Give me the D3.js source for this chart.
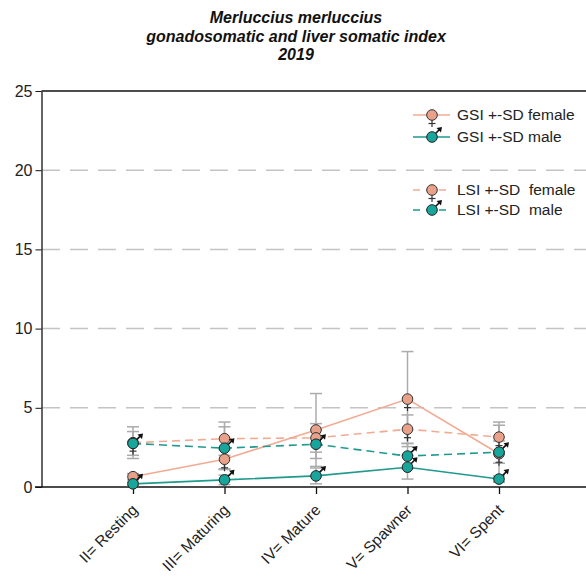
<!DOCTYPE html>
<html><head><meta charset="utf-8">
<script src="https://cdn.jsdelivr.net/npm/d3@7"></script>
<style>body{margin:0;background:#fff}svg{display:block}</style>
</head><body>
<svg id="c" width="586" height="580"></svg>
<script>
const categories = ["II= Resting","III= Maturing","IV= Mature","V= Spawner","VI= Spent"];
const gsiFemale   = [0.65, 1.75, 3.6, 5.55, 2.1];
const gsiFemaleSD = [0.2, 0.6, 2.3, 3.0, 1.8];
const gsiMale     = [0.2, 0.45, 0.7, 1.25, 0.5];
const gsiMaleSD   = [0.1, 0.3, 0.5, 0.75, 0.2];
const lsiFemale   = [2.8, 3.05, 3.1, 3.65, 3.15];
const lsiFemaleSD = [1.0, 1.05, 0.9, 0.9, 0.95];
const lsiMale     = [2.75, 2.45, 2.7, 1.95, 2.2];
const lsiMaleSD   = [0.75, 1.35, 0.9, 0.8, 0.7];
const yTicks = [0,5,10,15,20,25];
const titleLines = ["Merluccius merluccius","gonadosomatic and liver somatic index","2019"];
const legendLabels = ["GSI +-SD female","GSI +-SD male","LSI +-SD  female","LSI +-SD  male"];

const FONT = "'Liberation Sans', Arial, sans-serif";
const salmonLine = "#f2ab93", salmonFill = "#e9a18a";
const tealLine = "#1f9a8d", tealFill = "#17a59c";

const svg = d3.select("#c");
const x = d3.scalePoint().domain(categories).range([41.5, 590.5]).padding(1);
const y = d3.scaleLinear().domain([0,25]).range([487, 91]);

// title
svg.append("g").selectAll("text").data(titleLines).join("text")
  .attr("x", 296).attr("y", (d,i)=>[23,41.5,60][i])
  .attr("text-anchor","middle")
  .style("font-family",FONT).style("font-size","16px")
  .style("font-weight","bold").style("font-style","italic").attr("fill","#111")
  .text(d=>d);

// gridlines
svg.append("g").selectAll("line").data(yTicks.filter(t=>t>0&&t<25)).join("line")
  .attr("x1",42).attr("x2",586).attr("y1",d=>y(d)).attr("y2",d=>y(d))
  .attr("stroke","#c4c4c4").attr("stroke-width",1.5).attr("stroke-dasharray","18,10");

// top frame line
svg.append("line").attr("x1",41.5).attr("x2",586).attr("y1",y(25)).attr("y2",y(25))
  .attr("stroke","#111").attr("stroke-width",1.3);

// y axis
const ya = svg.append("g").attr("transform","translate(41.5,0)")
  .call(d3.axisLeft(y).tickValues(yTicks).tickSize(6).tickPadding(3).tickSizeOuter(0));
ya.select(".domain").attr("stroke","#111").attr("stroke-width",1.3);
ya.selectAll(".tick line").attr("stroke","#111");
ya.selectAll("text").style("font-family",FONT).style("font-size","16px").attr("fill","#222");

// x axis
const xa = svg.append("g").attr("transform","translate(0,487)")
  .call(d3.axisBottom(x).tickSize(7).tickSizeOuter(0));
xa.select(".domain").remove();
xa.append("line").attr("x1",35).attr("x2",586).attr("stroke","#111").attr("stroke-width",1.3);
xa.selectAll(".tick line").attr("stroke","#111").attr("stroke-width",1.3);
xa.selectAll("text").style("font-family",FONT).style("font-size","15.5px").attr("fill","#222")
  .attr("text-anchor","end").attr("dy",0).attr("y",0)
  .attr("transform","translate(5,24) rotate(-45)");

const series = [
  {v:gsiFemale, sd:gsiFemaleSD, color:salmonLine, dash:null, sex:"f"},
  {v:lsiFemale, sd:lsiFemaleSD, color:salmonLine, dash:"8,5", sex:"f"},
  {v:lsiMale, sd:lsiMaleSD, color:tealLine, dash:"8,5", sex:"m"},
  {v:gsiMale, sd:gsiMaleSD, color:tealLine, dash:null, sex:"m"}
];

// error bars
const eb = svg.append("g").attr("stroke","#ababab").attr("stroke-width",1.5);
series.forEach(s=>{
  categories.forEach((c,i)=>{
    const cx = x(c), top = y(s.v[i]+s.sd[i]), bot = y(Math.max(0,s.v[i]-s.sd[i]));
    eb.append("line").attr("x1",cx).attr("x2",cx).attr("y1",top).attr("y2",bot);
    eb.append("line").attr("x1",cx-6).attr("x2",cx+6).attr("y1",top).attr("y2",top);
    eb.append("line").attr("x1",cx-6).attr("x2",cx+6).attr("y1",bot).attr("y2",bot);
  });
});

// lines
const line = d3.line().x((d,i)=>x(categories[i])).y(d=>y(d));
series.forEach(s=>{
  svg.append("path").datum(s.v).attr("d",line).attr("fill","none")
    .attr("stroke",s.color).attr("stroke-width",1.6)
    .attr("stroke-dasharray",s.dash);
});

function marker(g, sex){
  if(sex==="f"){
    g.append("line").attr("x1",0).attr("x2",0).attr("y1",5).attr("y2",12).attr("stroke","#333").attr("stroke-width",1.2);
    g.append("line").attr("x1",-3.5).attr("x2",3.5).attr("y1",8.5).attr("y2",8.5).attr("stroke","#333").attr("stroke-width",1.2);
    g.append("circle").attr("r",5.3).attr("fill",salmonFill).attr("stroke","#333").attr("stroke-width",1);
  } else {
    g.append("line").attr("x1",3).attr("y1",-3).attr("x2",8).attr("y2",-8).attr("stroke","#111").attr("stroke-width",1.6);
    g.append("path").attr("d","M10,-10 L4.5,-9 L9,-4.5 Z").attr("fill","#111");
    g.append("circle").attr("r",5.3).attr("fill",tealFill).attr("stroke","#222").attr("stroke-width",1);
  }
}

// markers
series.forEach(s=>{
  s.v.forEach((v,i)=>{
    const g = svg.append("g").attr("transform",`translate(${x(categories[i])},${y(v)})`);
    marker(g, s.sex);
  });
});

// legend
const leg = [
  {label:legendLabels[0], color:salmonLine, dash:null, sex:"f", y:115},
  {label:legendLabels[1], color:tealLine, dash:null, sex:"m", y:137},
  {label:legendLabels[2], color:salmonLine, dash:"7,6", sex:"f", y:190},
  {label:legendLabels[3], color:tealLine, dash:"7,6", sex:"m", y:210}
];
leg.forEach(l=>{
  const g = svg.append("g").attr("transform",`translate(0,${l.y})`);
  g.append("line").attr("x1",413).attr("x2",450).attr("stroke",l.color).attr("stroke-width",1.6)
    .attr("stroke-dasharray",l.dash);
  marker(g.append("g").attr("transform","translate(432,0)"), l.sex);
  g.append("text").attr("x",457).attr("y",5).style("font-family",FONT).style("font-size","15.5px")
    .attr("fill","#222").style("white-space","pre").attr("xml:space","preserve").text(l.label);
});
</script>
</body></html>
